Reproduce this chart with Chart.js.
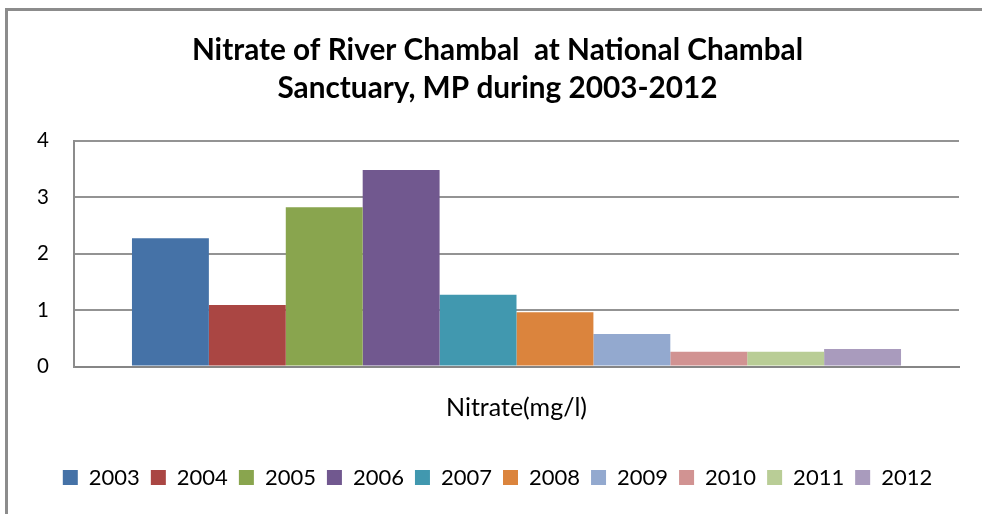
<!DOCTYPE html>
<html>
<head>
<meta charset="utf-8">
<script src="https://cdn.jsdelivr.net/npm/chart.js@4"></script>
<style>
  html, body { margin: 0; padding: 0; background: #fff; overflow: hidden; }
  canvas { display: block; }
</style>
</head>
<body>
<canvas id="c" width="982" height="514"></canvas>
<script>
const categories = ["Nitrate(mg/l)"];
const years = ["2003", "2004", "2005", "2006", "2007", "2008", "2009", "2010", "2011", "2012"];
const nitrate = [2.27, 1.09, 2.82, 3.48, 1.27, 0.96, 0.575, 0.26, 0.26, 0.31];
const yTicks = [0, 1, 2, 3, 4];
const colors = ["#4572A7", "#AA4643", "#89A54E", "#71588F", "#4198AF",
                "#DB843D", "#93A9CF", "#D19392", "#B9CD96", "#A99BBD"];
const titleLines = ["Nitrate of River Chambal  at National Chambal", "Sanctuary, MP during 2003-2012"];

const datasets = years.map((y, i) => ({
  label: y,
  data: [nitrate[i]],
  backgroundColor: colors[i],
  borderWidth: 0,
  categoryPercentage: 0.869,
  barPercentage: 1.0
}));

const framePlugin = {
  id: 'frame',
  beforeDraw(chart) {
    const ctx = chart.ctx;
    ctx.save();
    ctx.fillStyle = '#fff';
    ctx.fillRect(0, 0, chart.width, chart.height);
    ctx.fillStyle = '#8c8c8c';
    ctx.fillRect(5, 8, 3, chart.height);
    ctx.fillRect(5, 8, chart.width, 3);
    ctx.restore();
  }
};

new Chart(document.getElementById('c'), {
  type: 'bar',
  data: { labels: categories, datasets },
  plugins: [framePlugin],
  options: {
    responsive: false,
    animation: false,
    devicePixelRatio: 1,
    layout: { padding: { left: 36, right: 23, top: 0, bottom: 15.5 } },
    plugins: {
      title: {
        display: true,
        text: titleLines,
        color: '#000',
        font: { family: 'Lato', weight: 'bold', size: 29.75, lineHeight: 1.277 },
        padding: { top: 31, bottom: 33.7 }
      },
      legend: {
        position: 'bottom',
        labels: {
          color: '#000',
          font: { family: 'Lato', size: 22 },
          boxWidth: 15,
          boxHeight: 15,
          padding: 11
        }
      },
      tooltip: { enabled: false }
    },
    scales: {
      x: {
        grid: { display: false, drawTicks: false },
        border: { display: true, color: '#868686', width: 2 },
        ticks: { color: '#000', font: { family: 'Lato', size: 25 }, padding: 26.5 },
        afterFit: (s) => { s.height = 89; }
      },
      y: {
        min: 0, max: 4,
        afterBuildTicks: (s) => { s.ticks = yTicks.map(v => ({ value: v })); },
        grid: { color: '#939393', lineWidth: 2, drawTicks: false },
        border: { display: true, color: '#8c8c8c', width: 2 },
        ticks: { color: '#000', font: { family: 'Lato', size: 20.5 }, padding: 25 },
        afterFit: (s) => { s.width = 38; }
      }
    }
  }
});
</script>
</body>
</html>
